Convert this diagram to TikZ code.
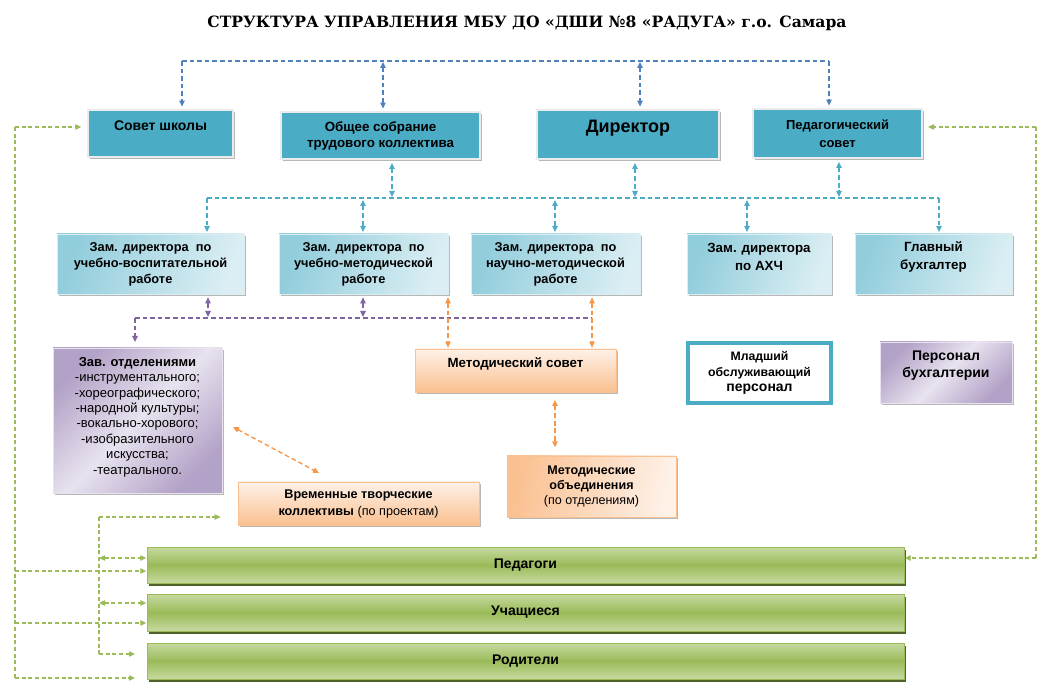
\documentclass[tikz,border=0pt]{standalone}
\usepackage{fontspec}
\setmainfont{Liberation Sans}
\newfontfamily\titlefont{DejaVu Serif}[BoldFont={DejaVu Serif Bold}]
\usetikzlibrary{arrows.meta,shadows,calc}
\newdimen\pxu \pxu=0.75pt
\definecolor{cBlue}{HTML}{4F81BD}
\definecolor{cTeal}{HTML}{4BACC6}
\definecolor{cTealL}{HTML}{DAEEF3}
\definecolor{cTealM}{HTML}{92CDDC}
\definecolor{cPurple}{HTML}{8064A2}
\definecolor{cPurL}{HTML}{E8E3EF}
\definecolor{cPurM}{HTML}{B3A2C7}
\definecolor{cOrange}{HTML}{F79646}
\definecolor{cOrL}{HTML}{FEF1E8}
\definecolor{cOrM}{HTML}{FAC090}
\definecolor{cGreen}{HTML}{9BBB59}
\definecolor{cGreenL}{HTML}{C6D9A0}
\definecolor{cGreenD}{HTML}{4F6228}
\begin{document}
\begin{tikzpicture}[x=0.75pt,y=-0.75pt,
  >={Triangle[width=4pt,length=4.5pt]},
  every node/.style={inner sep=0pt,outer sep=0pt},
  lightshadow/.style={drop shadow={shadow xshift=1.8pt,shadow yshift=-1.8pt,fill=black!40,opacity=0.7}},
  topbox/.style={draw=black!8,line width=2pt,fill=cTeal,lightshadow,align=center,anchor=north west},
  zambox/.style={draw=cTealL,line width=0.6pt,left color=cTealM,right color=cTealL,shading angle=70,lightshadow,align=center,anchor=north west},
  purbox/.style={draw=cPurL,line width=0.6pt,left color=cPurM,right color=cPurM,middle color=cPurL,shading angle=45,lightshadow,align=center,anchor=north west},
  orbox/.style={draw=cOrM,line width=0.6pt,top color=cOrL,bottom color=cOrM,lightshadow,align=center,anchor=north west},
  orboxh/.style={draw=cOrM,line width=0.6pt,left color=cOrM,right color=cOrL,shading angle=80,lightshadow,align=center,anchor=north west},
  grbar/.style={draw=cGreen,line width=0.5pt,top color=cGreenL,bottom color=cGreenL,middle color=cGreen,drop shadow={shadow xshift=1.5pt,shadow yshift=-2.2pt,fill=cGreenD,opacity=1},anchor=north west,font=\fontsize{10.5}{12}\selectfont\bfseries},
  bluedash/.style={draw=cBlue,line width=1.1pt,dash pattern=on 3.5pt off 2.2pt},
  tealdash/.style={draw=cTeal,line width=1pt,dash pattern=on 3.5pt off 2.2pt},
  purdash/.style={draw=cPurple,line width=1pt,dash pattern=on 3.5pt off 2.2pt},
  ordash/.style={draw=cOrange,line width=1pt,dash pattern=on 3.5pt off 2.2pt},
  grdash/.style={draw=cGreen,line width=0.9pt,dash pattern=on 3pt off 2pt}
]
\useasboundingbox[fill=white] (0,0) rectangle (1050,698);

\node[font=\titlefont\bfseries\fontsize{11.7}{13}\selectfont] (title) at (527,23) {СТРУКТУРА УПРАВЛЕНИЯ МБУ ДО «ДШИ №8 «РАДУГА» г.о. Самара};

% top row
\node[topbox,minimum width=145\pxu,minimum height=47\pxu] (sovet) at (88,110) {};
\node[font=\fontsize{10.5}{12}\selectfont\bfseries] (sovetT) at ($(sovet.north)+(0,16)$) {Совет школы};
\node[topbox,minimum width=199\pxu,minimum height=47\pxu,font=\fontsize{10}{12}\selectfont\bfseries] (obsch) at (281,112) {Общее собрание\\трудового коллектива};
\node[topbox,minimum width=182\pxu,minimum height=49\pxu] (dir) at (537,110) {};
\node[font=\fontsize{13.5}{15}\selectfont\bfseries] (dirT) at ($(dir.north)+(0,18)$) {Директор};
\node[topbox,minimum width=169\pxu,minimum height=49\pxu,font=\fontsize{9.75}{13.5}\selectfont\bfseries] (ped) at (753,109) {Педагогический\\совет};

% zam row
\node[zambox,minimum width=187\pxu,minimum height=60\pxu,font=\fontsize{9.6}{12}\selectfont\bfseries] (zam1) at (57,234) {Зам. директора~~по\\учебно-воспитательной\\работе};
\node[zambox,minimum width=169\pxu,minimum height=60\pxu,font=\fontsize{9.6}{12}\selectfont\bfseries] (zam2) at (279,234) {Зам. директора~~по\\учебно-методической\\работе};
\node[zambox,minimum width=169\pxu,minimum height=60\pxu,font=\fontsize{9.6}{12}\selectfont\bfseries] (zam3) at (471,234) {Зам. директора~~по\\научно-методической\\работе};
\node[zambox,minimum width=144\pxu,minimum height=60\pxu] (ahch) at (687,234) {};
\node[font=\fontsize{10}{13.5}\selectfont\bfseries,align=center] (ahchT) at ($(ahch.north)+(0,23)$) {Зам. директора\\по АХЧ};
\node[zambox,minimum width=157\pxu,minimum height=60\pxu] (glav) at (855,234) {};
\node[font=\fontsize{10}{13.5}\selectfont\bfseries,align=center] (glavT) at ($(glav.north)+(0,23)$) {Главный\\бухгалтер};

% lower boxes
\node[purbox,minimum width=169\pxu,minimum height=145\pxu] (zav) at (53,348) {};
\node[font=\fontsize{9.75}{11.55}\selectfont,align=center] (zavT) at ($(zav.north)+(0,69)$) {\textbf{Зав. отделениями}\\-инструментального;\\-хореографического;\\-народной культуры;\\-вокально-хорового;\\-изобразительного\\искусства;\\-театрального.};
\node[orbox,minimum width=201\pxu,minimum height=43\pxu] (metsov) at (415,349) {};
\node[font=\fontsize{10}{12}\selectfont\bfseries] (metsovT) at ($(metsov.north)+(0,15)$) {Методический совет};
\node[orboxh,minimum width=169\pxu,minimum height=61\pxu,font=\fontsize{9.4}{11.6}\selectfont] (metob) at (507,456) {\textbf{Методические}\\\textbf{объединения}\\(по отделениям)};
\node[draw=cTeal,line width=2.3pt,fill=white,minimum width=143\pxu,minimum height=60\pxu,anchor=north west,align=center,font=\fontsize{9.2}{11.6}\selectfont\bfseries] (mlad) at (688,343) {Младший\\обслуживающий\\{\fontsize{10.5}{11.6}\selectfont персонал}};
\node[purbox,minimum width=132\pxu,minimum height=61\pxu] (perbuh) at (880,342) {};
\node[font=\fontsize{10.5}{12.75}\selectfont\bfseries,align=center] (perbuhT) at ($(perbuh.north)+(0,23.5)$) {Персонал\\бухгалтерии};
\node[orbox,minimum width=241\pxu,minimum height=43\pxu,font=\fontsize{9.5}{12.75}\selectfont] (vrem) at (238,482) {\textbf{Временные творческие}\\\textbf{коллективы} (по проектам)};

% green bars
\node[grbar,minimum width=757\pxu,minimum height=36\pxu] (pedg) at (147,547) {Педагоги};
\node[grbar,minimum width=757\pxu,minimum height=37\pxu] (uch) at (147,594) {Учащиеся};
\node[grbar,minimum width=757\pxu,minimum height=36\pxu] (rod) at (147,643) {Родители};

% blue top bus
\draw[bluedash] (182,61) -- (829,61);
\draw[bluedash,->,shorten >=2.5pt] (182,61) -- (sovet.north -| 182,0);
\draw[bluedash,<->,shorten >=2.5pt] (383,62) -- (obsch.north -| 383,0);
\draw[bluedash,<->,shorten >=2.5pt] (640,62) -- (dir.north -| 640,0);
\draw[bluedash,->,shorten >=2.5pt] (829,61) -- (ped.north -| 829,0);

% teal bus
\draw[tealdash] (207,198) -- (939,198);
\draw[tealdash,<->,shorten <=3pt] (obsch.south -| 392,0) -- (392,197);
\draw[tealdash,<->,shorten <=3pt] (dir.south -| 635,0) -- (635,197);
\draw[tealdash,<->,shorten <=3pt] (ped.south -| 839,0) -- (839,197);
\draw[tealdash,->,shorten >=1.5pt] (207,198) -- (zam1.north -| 207,0);
\draw[tealdash,<->,shorten >=1.5pt] (363,200) -- (zam2.north -| 363,0);
\draw[tealdash,<->,shorten >=1.5pt] (555,200) -- (zam3.north -| 555,0);
\draw[tealdash,<->,shorten >=1.5pt] (747,200) -- (ahch.north -| 747,0);
\draw[tealdash,->,shorten >=1.5pt] (939,198) -- (glav.north -| 939,0);

% purple bus
\draw[purdash] (135,318) -- (592,318);
\draw[purdash,<->,shorten <=2.5pt] (zam1.south -| 208,0) -- (208,317);
\draw[purdash,<->,shorten <=2.5pt] (zam2.south -| 363,0) -- (363,317);
\draw[purdash,->,shorten >=4.5pt] (135,318) -- (zav.north -| 135,0);

% orange
\draw[ordash,<->,shorten <=2.5pt,shorten >=1pt] (zam2.south -| 448,0) -- (metsov.north -| 448,0);
\draw[ordash,<->,shorten <=2.5pt,shorten >=1pt] (zam3.south -| 592,0) -- (metsov.north -| 592,0);
\draw[ordash,<->,shorten <=6pt,shorten >=6.5pt] (metsov.south -| 555,0) -- (metob.north -| 555,0);
\draw[ordash,<->] ($(zav.north east)+(11,79)$) -- ($(vrem.north west)+(81,-9)$);

% green left outer
\draw[grdash] (15,127) -- (15,678);
\draw[grdash,->,shorten >=5pt] (15,127) -- (sovet.west |- 0,127);
\draw[grdash,->,shorten >=0.5pt] (15,571) -- (pedg.west |- 0,571);
\draw[grdash,->,shorten >=0.5pt] (15,623) -- (uch.west |- 0,623);
\draw[grdash,->,shorten >=9pt] (15,678) -- (rod.west |- 0,678);
% green left inner
\draw[grdash] (99,517) -- (99,654);
\draw[grdash,->,shorten >=13pt] (99,517) -- (vrem.west |- 0,517);
\draw[grdash,<->,shorten >=0.5pt] (99,558) -- (pedg.west |- 0,558);
\draw[grdash,<->,shorten >=0.5pt] (99,603) -- (uch.west |- 0,603);
\draw[grdash,->,shorten >=9pt] (99,654) -- (rod.west |- 0,654);
% green right
\draw[grdash] (1036,127) -- (1036,558);
\draw[grdash,->,shorten >=4.5pt] (1036,127) -- (ped.east |- 0,127);
\draw[grdash,->,shorten >=0.5pt] (1036,558) -- (pedg.east |- 0,558);
\end{tikzpicture}
\end{document}
